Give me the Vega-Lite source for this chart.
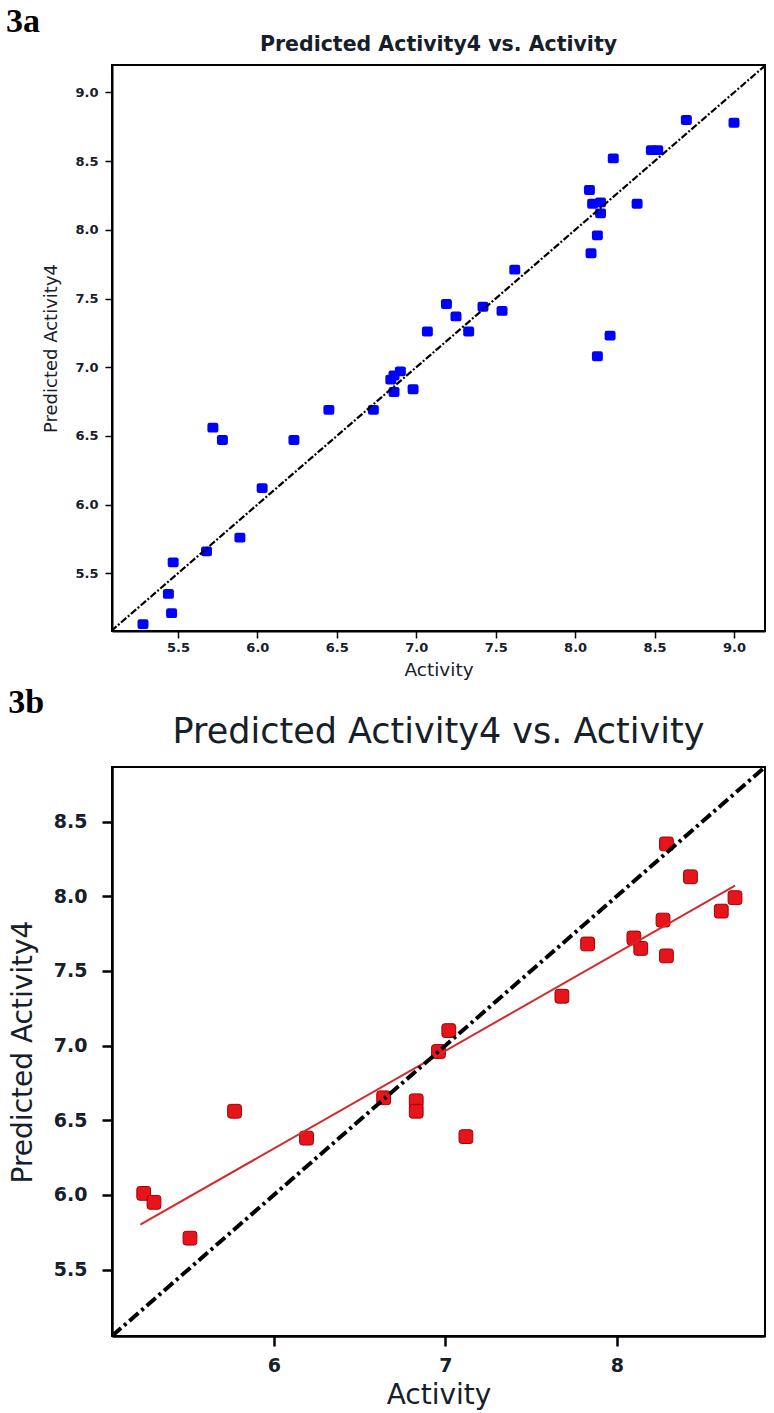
{
  "$schema": "https://vega.github.io/schema/vega-lite/v6.json",
  "background": "white",
  "padding": {"left": 5, "top": 4, "right": 8, "bottom": 5},
  "spacing": 6,
  "config": {
    "view": {"stroke": "black", "strokeWidth": 2},
    "font": "DejaVu Sans",
    "axis": {"grid": false, "domainColor": "black", "tickColor": "black", "labelColor": "#15202b", "titleColor": "#15202b"}
  },
  "datasets": {
    "a": [
      {"Activity": 5.28, "Predicted": 5.13},
      {"Activity": 5.44, "Predicted": 5.35},
      {"Activity": 5.46, "Predicted": 5.21},
      {"Activity": 5.47, "Predicted": 5.58},
      {"Activity": 5.68, "Predicted": 5.66},
      {"Activity": 5.72, "Predicted": 6.56},
      {"Activity": 5.78, "Predicted": 6.47},
      {"Activity": 5.89, "Predicted": 5.76},
      {"Activity": 6.03, "Predicted": 6.12},
      {"Activity": 6.23, "Predicted": 6.47},
      {"Activity": 6.45, "Predicted": 6.69},
      {"Activity": 6.73, "Predicted": 6.69},
      {"Activity": 6.84, "Predicted": 6.91},
      {"Activity": 6.86, "Predicted": 6.94},
      {"Activity": 6.90, "Predicted": 6.97},
      {"Activity": 6.86, "Predicted": 6.82},
      {"Activity": 6.98, "Predicted": 6.84},
      {"Activity": 7.07, "Predicted": 7.26},
      {"Activity": 7.19, "Predicted": 7.46},
      {"Activity": 7.25, "Predicted": 7.37},
      {"Activity": 7.33, "Predicted": 7.26},
      {"Activity": 7.42, "Predicted": 7.44},
      {"Activity": 7.54, "Predicted": 7.41},
      {"Activity": 7.62, "Predicted": 7.71},
      {"Activity": 8.09, "Predicted": 8.29},
      {"Activity": 8.10, "Predicted": 7.83},
      {"Activity": 8.11, "Predicted": 8.19},
      {"Activity": 8.16, "Predicted": 8.20},
      {"Activity": 8.16, "Predicted": 8.12},
      {"Activity": 8.14, "Predicted": 7.96},
      {"Activity": 8.14, "Predicted": 7.08},
      {"Activity": 8.22, "Predicted": 7.23},
      {"Activity": 8.24, "Predicted": 8.52},
      {"Activity": 8.39, "Predicted": 8.19},
      {"Activity": 8.48, "Predicted": 8.58},
      {"Activity": 8.52, "Predicted": 8.58},
      {"Activity": 8.70, "Predicted": 8.80},
      {"Activity": 9.00, "Predicted": 8.78}
    ],
    "diagA": [
      {"Activity": 5.08, "Predicted": 5.08},
      {"Activity": 9.2, "Predicted": 9.2}
    ],
    "b": [
      {"Activity": 5.24, "Predicted": 6.01},
      {"Activity": 5.30, "Predicted": 5.95},
      {"Activity": 5.51, "Predicted": 5.71},
      {"Activity": 5.77, "Predicted": 6.56},
      {"Activity": 6.19, "Predicted": 6.38},
      {"Activity": 6.64, "Predicted": 6.65},
      {"Activity": 6.83, "Predicted": 6.63},
      {"Activity": 6.83, "Predicted": 6.56},
      {"Activity": 6.96, "Predicted": 6.96},
      {"Activity": 7.02, "Predicted": 7.10},
      {"Activity": 7.12, "Predicted": 6.39},
      {"Activity": 7.68, "Predicted": 7.33},
      {"Activity": 7.83, "Predicted": 7.68},
      {"Activity": 8.10, "Predicted": 7.72},
      {"Activity": 8.14, "Predicted": 7.65},
      {"Activity": 8.29, "Predicted": 7.60},
      {"Activity": 8.27, "Predicted": 7.84},
      {"Activity": 8.29, "Predicted": 8.35},
      {"Activity": 8.43, "Predicted": 8.13},
      {"Activity": 8.61, "Predicted": 7.90},
      {"Activity": 8.69, "Predicted": 7.99}
    ],
    "fitB": [
      {"Activity": 5.22, "Predicted": 5.80},
      {"Activity": 8.69, "Predicted": 8.07}
    ],
    "diagB": [
      {"Activity": 5.055, "Predicted": 5.055},
      {"Activity": 8.865, "Predicted": 8.865}
    ]
  },
  "vconcat": [
    {
      "title": {"text": "3a", "anchor": "start", "frame": "bounds", "font": "Liberation Serif", "fontSize": 34, "fontWeight": "bold", "color": "black", "dx": -36, "offset": -5},
      "vconcat": [
        {
          "width": 653,
          "height": 566,
          "title": {"text": "Predicted Activity4 vs. Activity", "font": "DejaVu Sans", "fontSize": 20.5, "fontWeight": "bold", "color": "#15202b", "offset": 10},
          "layer": [
            {
              "data": {"name": "a"},
              "mark": {"type": "point", "shape": "M-0.6,-0.9H0.6Q1,-0.9,1,-0.5V0.5Q1,0.9,0.6,0.9H-0.6Q-1,0.9,-1,0.5V-0.5Q-1,-0.9,-0.6,-0.9Z", "filled": true, "color": "#0000ff", "opacity": 1, "size": 120},
              "encoding": {
                "x": {"field": "Activity", "type": "quantitative", "scale": {"domain": [5.085, 9.195], "zero": false, "nice": false},
                  "axis": {"title": "Activity", "values": [5.5, 6.0, 6.5, 7.0, 7.5, 8.0, 8.5, 9.0], "format": ".1f", "labelFontSize": 13, "labelFontWeight": "bold", "titleFontSize": 18.5, "titleFontWeight": "normal", "tickSize": 7, "tickWidth": 1.5, "domainWidth": 2, "labelPadding": 3, "titlePadding": 6}},
                "y": {"field": "Predicted", "type": "quantitative", "scale": {"domain": [5.08, 9.2], "zero": false, "nice": false},
                  "axis": {"title": "Predicted Activity4", "values": [5.5, 6.0, 6.5, 7.0, 7.5, 8.0, 8.5, 9.0], "format": ".1f", "labelFontSize": 13, "labelFontWeight": "bold", "titleFontSize": 18, "titleFontWeight": "normal", "tickSize": 7, "tickWidth": 1.5, "domainWidth": 2, "labelPadding": 7, "titlePadding": 14}}
              }
            },
            {
              "data": {"name": "diagA"},
              "mark": {"type": "line", "color": "black", "strokeWidth": 2.2, "strokeDash": [7, 2, 2, 2], "clip": true},
              "encoding": {
                "x": {"field": "Activity", "type": "quantitative"},
                "y": {"field": "Predicted", "type": "quantitative"}
              }
            }
          ]
        }
      ]
    },
    {
      "title": {"text": "3b", "anchor": "start", "frame": "bounds", "font": "Liberation Serif", "fontSize": 34, "fontWeight": "bold", "color": "black", "dx": 0, "offset": -6},
      "vconcat": [
        {
          "width": 653,
          "height": 569,
          "title": {"text": "Predicted Activity4 vs. Activity", "font": "DejaVu Sans", "fontSize": 35, "fontWeight": "normal", "color": "#15202b", "offset": 17},
          "layer": [
            {
              "data": {"name": "b"},
              "mark": {"type": "point", "shape": "M-0.6,-1H0.6Q1,-1,1,-0.6V0.6Q1,1,0.6,1H-0.6Q-1,1,-1,0.6V-0.6Q-1,-1,-0.6,-1Z", "filled": true, "color": "#e8141b", "stroke": "#a00000", "strokeWidth": 1, "opacity": 1, "size": 190},
              "encoding": {
                "x": {"field": "Activity", "type": "quantitative", "scale": {"domain": [5.055, 8.865], "zero": false, "nice": false},
                  "axis": {"title": "Activity", "values": [6, 7, 8], "format": "d", "labelFontSize": 19, "labelFontWeight": "bold", "titleFontSize": 28, "titleFontWeight": "normal", "tickSize": 10, "tickWidth": 2.5, "domainWidth": 2.5, "labelPadding": 10, "titlePadding": 6}},
                "y": {"field": "Predicted", "type": "quantitative", "scale": {"domain": [5.055, 8.865], "zero": false, "nice": false},
                  "axis": {"title": "Predicted Activity4", "values": [5.5, 6.0, 6.5, 7.0, 7.5, 8.0, 8.5], "format": ".1f", "labelFontSize": 19, "labelFontWeight": "bold", "titleFontSize": 28, "titleFontWeight": "normal", "tickSize": 10, "tickWidth": 2.5, "domainWidth": 2.5, "labelPadding": 15, "titlePadding": 16}}
              }
            },
            {
              "data": {"name": "fitB"},
              "mark": {"type": "line", "color": "#d42a2a", "strokeWidth": 2},
              "encoding": {
                "x": {"field": "Activity", "type": "quantitative"},
                "y": {"field": "Predicted", "type": "quantitative"}
              }
            },
            {
              "data": {"name": "diagB"},
              "mark": {"type": "line", "color": "black", "strokeWidth": 4, "strokeDash": [12, 4, 3, 4], "clip": true},
              "encoding": {
                "x": {"field": "Activity", "type": "quantitative"},
                "y": {"field": "Predicted", "type": "quantitative"}
              }
            }
          ]
        }
      ]
    }
  ]
}
